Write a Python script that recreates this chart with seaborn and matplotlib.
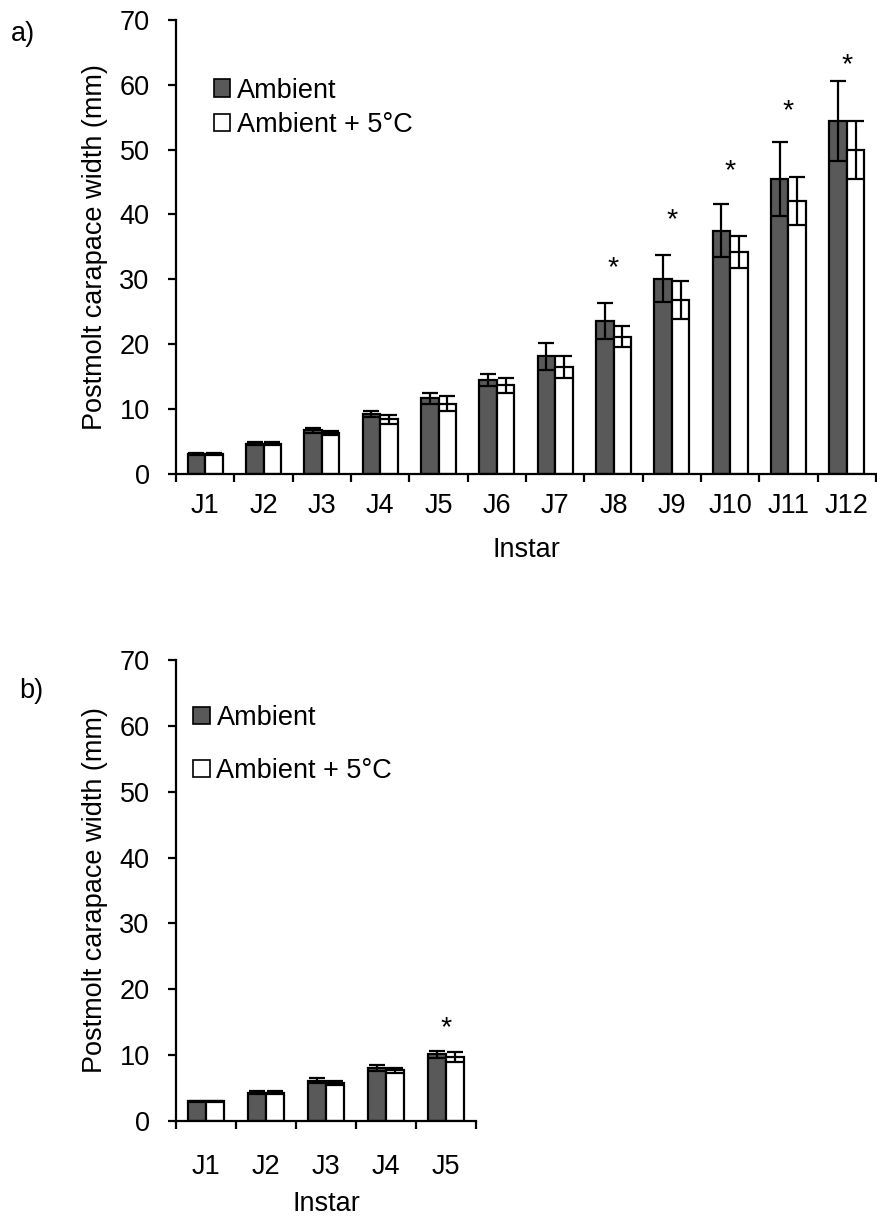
import numpy as np
import pandas as pd
import matplotlib
matplotlib.use("Agg")
import matplotlib.pyplot as plt
import seaborn as sns
from matplotlib.patches import Patch
from matplotlib.ticker import MultipleLocator

# panel a) - 12 instars
instars_a = ["J1", "J2", "J3", "J4", "J5", "J6", "J7", "J8", "J9", "J10", "J11", "J12"]
ambient_a = [3.0, 4.6, 6.7, 9.2, 11.6, 14.4, 18.1, 23.5, 30.1, 37.5, 45.4, 54.4]
ambient_a_err = [0.2, 0.2, 0.4, 0.5, 0.8, 0.9, 2.1, 2.8, 3.7, 4.1, 5.7, 6.2]
warm_a = [3.0, 4.6, 6.3, 8.4, 10.8, 13.6, 16.5, 21.1, 26.8, 34.2, 42.1, 49.9]
warm_a_err = [0.1, 0.2, 0.3, 0.7, 1.2, 1.2, 1.7, 1.6, 2.9, 2.4, 3.7, 4.5]
star_a = [None, None, None, None, None, None, None, 31.7, 39.1, 46.6, 55.9, 63.1]

# panel b) - 5 instars
instars_b = ["J1", "J2", "J3", "J4", "J5"]
ambient_b = [3.0, 4.3, 6.1, 8.1, 10.1]
ambient_b_err = [0.1, 0.2, 0.4, 0.45, 0.55]
warm_b = [3.0, 4.3, 5.7, 7.7, 9.7]
warm_b_err = [0.1, 0.2, 0.3, 0.35, 0.8]
star_b = [None, None, None, None, 14.1]

treatments = ["Ambient", "Ambient + 5\u00b0C"]
colors = ["#595959", "#ffffff"]

FS = 19.5

sns.set_theme(style="white")
plt.rcParams["font.family"] = ["Liberation Sans", "DejaVu Sans"]
plt.rcParams["font.size"] = FS
plt.rcParams["text.color"] = "black"
plt.rcParams["axes.labelcolor"] = "black"
plt.rcParams["xtick.color"] = "black"
plt.rcParams["ytick.color"] = "black"


def make_df(instars, amb, warm):
    return pd.DataFrame({
        "Instar": instars * 2,
        "width": amb + warm,
        "treatment": [treatments[0]] * len(instars) + [treatments[1]] * len(instars),
    })


def draw_panel(ax, instars, amb, amb_err, warm, warm_err, stars, leg_xy, leg_space,
               xpad, xlabelpad):
    df = make_df(instars, amb, warm)
    sns.barplot(data=df, x="Instar", y="width", hue="treatment", palette=colors,
                edgecolor="black", linewidth=1.6, width=0.6, errorbar=None,
                legend=False, ax=ax, zorder=2)
    # error bars on each bar container
    for cont, errs in zip(ax.containers, [amb_err, warm_err]):
        xs = [p.get_x() + p.get_width() / 2 for p in cont.patches]
        ys = [p.get_height() for p in cont.patches]
        ax.errorbar(xs, ys, yerr=errs, fmt="none", ecolor="black",
                    elinewidth=1.6, capsize=5.5, capthick=1.6, zorder=3)
    for i, s in enumerate(stars):
        if s is not None:
            ax.text(i, s, "*", ha="center", va="center", fontsize=FS + 1)

    ax.set_ylim(0, 70)
    ax.set_xlim(-0.5, len(instars) - 0.5)
    ax.yaxis.set_major_locator(MultipleLocator(10))
    ax.set_xlabel("Instar", fontsize=FS, labelpad=xlabelpad)
    ax.set_ylabel("Postmolt carapace width (mm)", fontsize=FS, labelpad=8)
    sns.despine(ax=ax)
    for sp in ["left", "bottom"]:
        ax.spines[sp].set_color("black")
        ax.spines[sp].set_linewidth(1.6)
    ax.tick_params(axis="y", which="major", direction="out", length=6,
                   width=1.6, color="black", labelsize=FS, left=True, pad=13)
    ax.tick_params(axis="x", which="major", length=0, labelsize=FS, pad=xpad)
    ax.set_xticks(np.arange(len(instars) + 1) - 0.5, minor=True)
    ax.tick_params(axis="x", which="minor", direction="out", length=6,
                   width=1.6, color="black", bottom=True)

    handles = [Patch(facecolor=c, edgecolor="black", linewidth=1.2) for c in colors]
    ax.legend(handles, treatments, loc="upper left", bbox_to_anchor=leg_xy,
              frameon=False, fontsize=FS, handlelength=0.6, handleheight=0.6,
              handletextpad=0.25, labelspacing=leg_space, borderaxespad=0,
              borderpad=0)


fig = plt.figure(figsize=(8.78, 12.29), dpi=100)
ax_a = fig.add_axes([0.2005, 0.6147, 0.7972, 0.3690])
ax_b = fig.add_axes([0.2005, 0.0879, 0.3417, 0.3751])

draw_panel(ax_a, instars_a, ambient_a, ambient_a_err, warm_a, warm_a_err, star_a,
           (0.054, 0.873), 0.32, 14, 13)
draw_panel(ax_b, instars_b, ambient_b, ambient_b_err, warm_b, warm_b_err, star_b,
           (0.058, 0.903), 1.0, 24, 8)

fig.text(0.012, 0.972, "a)", fontsize=FS, va="center")
fig.text(0.022, 0.438, "b)", fontsize=FS, va="center")

fig.savefig("out.png", dpi=100)
